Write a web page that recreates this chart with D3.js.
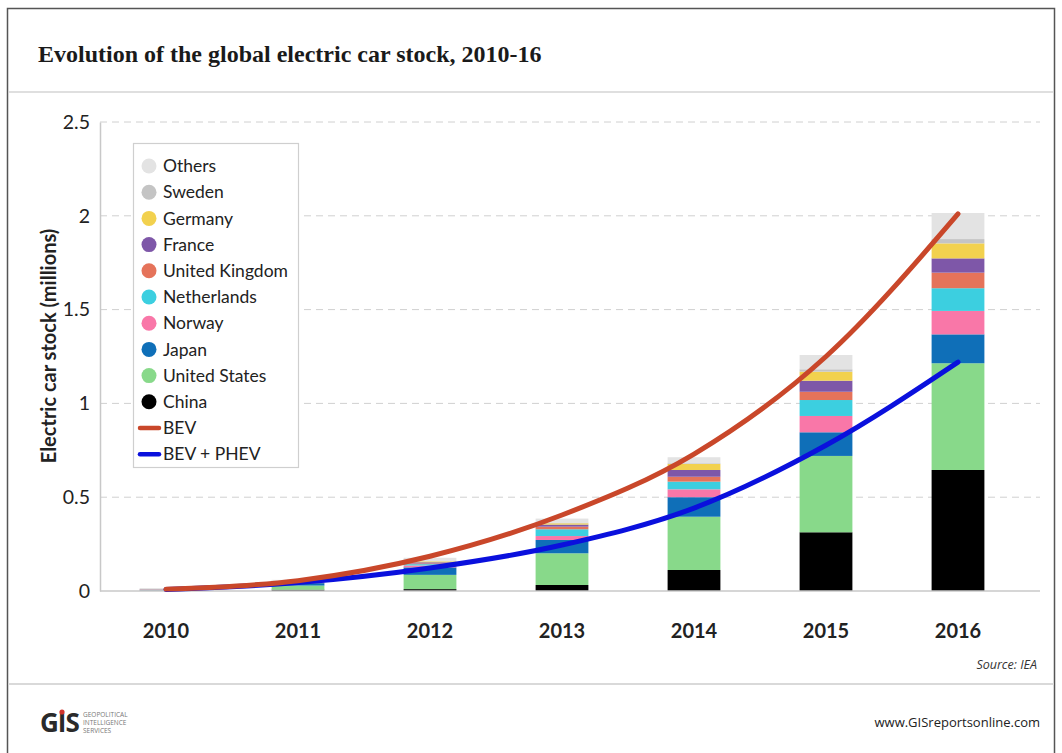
<!DOCTYPE html>
<html>
<head>
<meta charset="utf-8">
<script src="https://cdn.jsdelivr.net/npm/d3@7"></script>
<style>
  html, body { margin: 0; padding: 0; background: #ffffff; }
  svg { display: block; }
</style>
</head>
<body>
<svg id="chart" width="1062" height="753"></svg>
<script>
// ---- DATA ----
const years = ["2010", "2011", "2012", "2013", "2014", "2015", "2016"];
const countries = ["China", "United States", "Japan", "Norway", "Netherlands", "United Kingdom", "France", "Germany", "Sweden", "Others"];
const china        = [0.001, 0.007, 0.010, 0.032, 0.112, 0.313, 0.645];
const unitedStates = [0.001, 0.022, 0.076, 0.169, 0.284, 0.407, 0.569];
const japan        = [0.002, 0.013, 0.040, 0.071, 0.104, 0.126, 0.154];
const norway       = [0.0005, 0.004, 0.010, 0.021, 0.042, 0.087, 0.125];
const netherlands  = [0.0003, 0.001, 0.007, 0.036, 0.041, 0.085, 0.121];
const unitedKingdom= [0.0005, 0.002, 0.004, 0.014, 0.026, 0.044, 0.083];
const france       = [0.003, 0.003, 0.006, 0.011, 0.036, 0.059, 0.076];
const germany      = [0.001, 0.002, 0.005, 0.007, 0.032, 0.048, 0.080];
const sweden       = [0.0003, 0.0005, 0.001, 0.004, 0.004, 0.013, 0.023];
const others       = [0.006, 0.005, 0.018, 0.021, 0.032, 0.076, 0.139];
const bev          = [0.010, 0.055, 0.185, 0.405, 0.730, 1.250, 2.010];
const bevPhev      = [0.008, 0.045, 0.123, 0.245, 0.442, 0.777, 1.220];
const yTicks = [0, 0.5, 1, 1.5, 2, 2.5];
const yTickLabels = ["0", "0.5", "1", "1.5", "2", "2.5"];

const seriesValues = [china, unitedStates, japan, norway, netherlands, unitedKingdom, france, germany, sweden, others];
const colors = {
  "China": "#000000", "United States": "#88d98a", "Japan": "#0f6fb8", "Norway": "#f977a8",
  "Netherlands": "#3ccfe0", "United Kingdom": "#e5735a", "France": "#7e57a8",
  "Germany": "#f2d14e", "Sweden": "#c4c4c4", "Others": "#e3e3e3"
};
const bevColor = "#c9472a", phevColor = "#0a10dd";

const svg = d3.select("#chart");
const font = "Lato, 'Open Sans', sans-serif";

// frame
svg.append("rect").attr("x", 7.5).attr("y", 8.5).attr("width", 1047).attr("height", 760)
  .attr("fill", "#fff").attr("stroke", "#555").attr("stroke-width", 1.5);
svg.append("line").attr("x1", 8).attr("x2", 1054).attr("y1", 92).attr("y2", 92)
  .attr("stroke", "#d4d4d4").attr("stroke-width", 1.5);
svg.append("line").attr("x1", 8).attr("x2", 1054).attr("y1", 684).attr("y2", 684)
  .attr("stroke", "#d9d9d9").attr("stroke-width", 2);

// title
svg.append("text").attr("x", 38).attr("y", 62)
  .attr("font-family", "'Liberation Serif', 'DejaVu Serif', serif").attr("font-weight", "bold")
  .attr("font-size", 24).attr("fill", "#1a1a1a")
  .text("Evolution of the global electric car stock, 2010-16");

// scales
const x = d3.scaleBand().domain(years).range([100, 1024]).paddingInner(0.6).paddingOuter(0.3);
const y = d3.scaleLinear().domain([0, 2.5]).range([591, 122]);
const cx = d => x(d) + x.bandwidth() / 2;

// grid
svg.append("g").selectAll("line").data(yTicks.filter(d => d > 0)).join("line")
  .attr("x1", 100).attr("x2", 1040).attr("y1", d => y(d)).attr("y2", d => y(d))
  .attr("stroke", "#d0d0d0").attr("stroke-width", 1).attr("stroke-dasharray", "7,5");

// y axis
const yAxis = d3.axisLeft(y).tickValues(yTicks).tickFormat((d, i) => yTickLabels[i]).tickSize(0).tickPadding(10);
const gy = svg.append("g").attr("transform", "translate(100,0)").call(yAxis);
gy.select(".domain").attr("stroke", "#c8c8c8").attr("stroke-width", 1.5);
gy.selectAll("text").attr("font-family", font).attr("font-size", 19.5).attr("fill", "#222");

// y title
svg.append("text").attr("transform", "translate(56,346) rotate(-90)")
  .attr("text-anchor", "middle").attr("font-family", font).attr("font-weight", "bold")
  .attr("font-size", 20).attr("fill", "#222").text("Electric car stock (millions)");

// stacked bars
const table = years.map((yr, i) => {
  const row = { year: yr };
  countries.forEach((c, k) => row[c] = seriesValues[k][i]);
  return row;
});
const stack = d3.stack().keys(countries)(table);
svg.append("g").selectAll("g").data(stack).join("g")
  .attr("fill", d => colors[d.key])
  .selectAll("rect").data(d => d).join("rect")
  .attr("x", d => x(d.data.year)).attr("width", x.bandwidth())
  .attr("y", d => y(d[1])).attr("height", d => Math.max(0, y(d[0]) - y(d[1])));

// x axis
const xAxis = d3.axisBottom(x).tickSize(0).tickPadding(0);
const gx = svg.append("g").attr("transform", "translate(0,591)").call(xAxis);
gx.select(".domain").remove();
svg.append("line").attr("x1", 100).attr("x2", 1040).attr("y1", 591).attr("y2", 591)
  .attr("stroke", "#c8c8c8").attr("stroke-width", 1.5);
gx.selectAll("text").attr("font-family", font).attr("font-weight", "bold").attr("font-size", 20)
  .attr("fill", "#222").attr("dy", "47px");

// lines
const line = d3.line().x((d, i) => cx(years[i])).y(d => y(d)).curve(d3.curveMonotoneX);
svg.append("path").datum(bevPhev).attr("d", line).attr("fill", "none")
  .attr("stroke", phevColor).attr("stroke-width", 5).attr("stroke-linecap", "round");
svg.append("path").datum(bev).attr("d", line).attr("fill", "none")
  .attr("stroke", bevColor).attr("stroke-width", 5).attr("stroke-linecap", "round");

// legend
const lg = svg.append("g");
lg.append("rect").attr("x", 133.5).attr("y", 143.5).attr("width", 165).attr("height", 324)
  .attr("fill", "#fff").attr("stroke", "#cfcfcf").attr("stroke-width", 1.2);
const legendItems = countries.slice().reverse().map(c => ({ label: c, type: "dot", color: colors[c] }))
  .concat([{ label: "BEV", type: "line", color: bevColor }, { label: "BEV + PHEV", type: "line", color: phevColor }]);
legendItems.forEach((it, i) => {
  const yy = 166 + i * 26.2;
  if (it.type === "dot") {
    lg.append("circle").attr("cx", 149).attr("cy", yy).attr("r", 7.5).attr("fill", it.color);
  } else {
    lg.append("line").attr("x1", 140).attr("x2", 159).attr("y1", yy).attr("y2", yy)
      .attr("stroke", it.color).attr("stroke-width", 4.5).attr("stroke-linecap", "round");
  }
  lg.append("text").attr("x", 163).attr("y", yy).attr("dy", "0.35em")
    .attr("font-family", font).attr("font-size", 17.5).attr("fill", "#222").text(it.label);
});

// source
svg.append("text").attr("x", 1037).attr("y", 669).attr("text-anchor", "end")
  .attr("font-family", "'Open Sans', sans-serif").attr("font-style", "italic")
  .attr("font-size", 12.5).attr("fill", "#333").text("Source: IEA");

// footer
svg.append("text").attr("x", 1040).attr("y", 727).attr("text-anchor", "end")
  .attr("font-family", "'Open Sans', sans-serif")
  .attr("font-size", 13).attr("fill", "#222").text("www.GISreportsonline.com");
const logo = svg.append("g");
logo.append("text").attr("x", 40).attr("y", 732).attr("font-family", "'Open Sans', sans-serif")
  .attr("font-weight", "bold").attr("font-size", 26).attr("letter-spacing", "-1").attr("fill", "#2a2a2a").text("GIS");
logo.append("circle").attr("cx", 62).attr("cy", 712).attr("r", 2.6).attr("fill", "#d0342c");
["GEOPOLITICAL", "INTELLIGENCE", "SERVICES"].forEach((t, i) => {
  logo.append("text").attr("x", 83).attr("y", 717 + i * 8).attr("font-family", "'Open Sans', sans-serif")
    .attr("font-size", 6.5).attr("fill", "#777").text(t);
});
</script>
</body>
</html>
